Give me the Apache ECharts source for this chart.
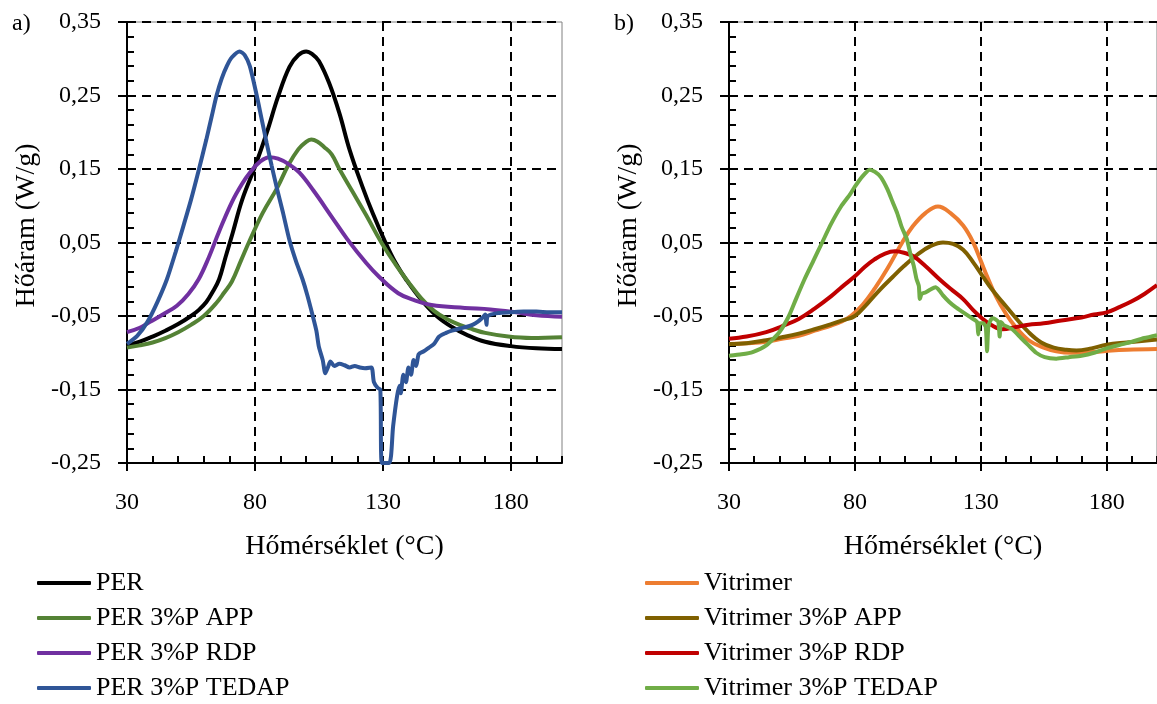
<!DOCTYPE html>
<html><head><meta charset="utf-8">
<script src="https://cdn.jsdelivr.net/npm/echarts@6/dist/echarts.min.js"></script>
<style>html,body{margin:0;padding:0;background:#fff}#c{width:1157px;height:704px}</style>
</head><body><div id="c"></div>
<script>
// ---- tick labels ----
const xTicks = [30, 80, 130, 180];
const yTicks = [-0.25, -0.15, -0.05, 0.05, 0.15, 0.25, 0.35];
const xTitle = 'Hőmérséklet (°C)';
const yTitle = 'Hőáram (W/g)';
const panelLabels = ['a)', 'b)'];

// ---- panel a) series: [temperature °C, heat flow W/g] ----
const PER = [[30,-0.09],[35,-0.085],[40,-0.078],[45,-0.07],[50,-0.061],[55,-0.05],[58,-0.042],[61,-0.031],[63.5,-0.017],[66,0.0],[68.5,0.03],[71.3,0.063],[75,0.108],[80,0.153],[84.6,0.199],[89,0.248],[93.5,0.289],[97,0.305],[100,0.31],[102.5,0.306],[105,0.297],[109,0.267],[113,0.226],[117,0.176],[122,0.126],[126,0.09],[131,0.05],[135,0.022],[139,0.0],[145,-0.028],[151,-0.05],[157,-0.065],[163,-0.076],[170,-0.085],[180,-0.091],[190,-0.094],[200,-0.095]];
const PER_APP = [[30,-0.093],[35,-0.09],[40,-0.086],[45,-0.08],[50,-0.072],[55,-0.062],[60,-0.05],[65,-0.032],[68,-0.018],[71,-0.003],[74.5,0.025],[78,0.053],[83,0.09],[88.8,0.125],[93,0.155],[97,0.177],[100,0.187],[102,0.19],[104.5,0.187],[107,0.18],[110,0.17],[113,0.15],[118,0.12],[123.5,0.087],[129.4,0.05],[135,0.02],[140,-0.004],[145,-0.026],[150,-0.043],[155,-0.054],[160,-0.062],[165,-0.068],[170,-0.073],[179,-0.078],[188,-0.08],[200,-0.079]];
const PER_RDP = [[30,-0.072],[35,-0.066],[39,-0.058],[44,-0.048],[49.5,-0.036],[54,-0.02],[58,0.0],[62,0.03],[66,0.065],[71,0.105],[75,0.13],[78,0.145],[82,0.16],[85.7,0.166],[89,0.164],[93,0.157],[97.4,0.145],[103,0.12],[110,0.085],[116,0.055],[123.5,0.022],[128.6,0.003],[136,-0.019],[142,-0.028],[149,-0.035],[162,-0.039],[172,-0.041],[182,-0.045],[190,-0.049],[200,-0.051]];
const PER_TEDAP = [[30,-0.088],[34,-0.077],[38,-0.058],[42,-0.03],[45.6,0.0],[49,0.037],[52,0.072],[55,0.108],[58,0.148],[61,0.19],[63,0.22],[65,0.25],[67,0.273],[69,0.29],[71,0.302],[74,0.31],[76,0.305],[78,0.29],[80.7,0.25],[82.5,0.22],[84.6,0.185],[86.5,0.155],[88.5,0.125],[91,0.09],[93.5,0.053],[96,0.025],[98.6,0.0],[100.5,-0.022],[102.6,-0.05],[104,-0.07],[105,-0.092],[106.5,-0.11],[107.5,-0.128],[108.5,-0.12],[109.5,-0.112],[111,-0.118],[113,-0.115],[115,-0.117],[117,-0.12],[119,-0.118],[121,-0.12],[123,-0.121],[125.5,-0.12],[126.5,-0.14],[128,-0.148],[129,-0.15],[129.6,-0.25],[132.5,-0.25],[134,-0.2],[135.5,-0.16],[136.5,-0.145],[137,-0.155],[138,-0.13],[139,-0.14],[140,-0.12],[141,-0.13],[142,-0.11],[143,-0.118],[144,-0.102],[146,-0.098],[148,-0.093],[150,-0.088],[152,-0.078],[154.7,-0.073],[157,-0.07],[160,-0.067],[162.5,-0.065],[165,-0.062],[167,-0.058],[169,-0.052],[170,-0.048],[170.5,-0.062],[171,-0.05],[175,-0.046],[180,-0.045],[185,-0.044],[190,-0.044],[195,-0.045],[200,-0.045]];

// ---- panel b) series ----
const VIT = [[30,-0.088],[37,-0.087],[44.8,-0.085],[51,-0.081],[57.7,-0.077],[64,-0.07],[70.6,-0.063],[75,-0.057],[78.4,-0.05],[83,-0.035],[88,-0.012],[93,0.015],[98.8,0.05],[103,0.072],[108,0.09],[113,0.099],[118,0.09],[123,0.073],[127,0.05],[130,0.025],[133,0.0],[136,-0.023],[140,-0.047],[143.6,-0.064],[149,-0.083],[155,-0.093],[160,-0.098],[166,-0.1],[175,-0.099],[182,-0.097],[188,-0.096],[200,-0.095]];
const VIT_APP = [[30,-0.088],[37,-0.087],[44.8,-0.083],[51,-0.079],[57.7,-0.074],[64,-0.068],[70.6,-0.061],[75,-0.056],[80,-0.05],[85,-0.033],[90,-0.014],[95,0.003],[99.5,0.018],[105,0.034],[110,0.045],[115,0.05],[119,0.048],[123,0.04],[127,0.023],[130.8,0.004],[134.5,-0.014],[138.6,-0.031],[144,-0.053],[149,-0.072],[154,-0.086],[159,-0.093],[164,-0.096],[168,-0.097],[174,-0.094],[180,-0.089],[188,-0.086],[200,-0.082]];
const VIT_RDP = [[30,-0.081],[37,-0.078],[44.8,-0.072],[51,-0.064],[57.7,-0.054],[64,-0.04],[70.6,-0.023],[75,-0.01],[80,0.004],[84,0.017],[87.8,0.027],[92,0.035],[96,0.038],[99.5,0.036],[103.4,0.031],[108,0.018],[113.6,0.0],[118,-0.013],[123,-0.027],[127,-0.042],[130.8,-0.054],[134,-0.062],[138.6,-0.068],[144,-0.065],[149,-0.062],[155,-0.06],[162,-0.056],[170,-0.052],[175,-0.048],[180,-0.045],[185,-0.038],[190,-0.03],[195,-0.02],[200,-0.008]];
const VIT_TEDAP = [[30,-0.104],[35,-0.102],[39.4,-0.099],[44.8,-0.09],[50,-0.072],[53.8,-0.05],[56.6,-0.027],[60,0.0],[63.5,0.025],[67,0.05],[70.5,0.075],[74.5,0.099],[78,0.115],[80,0.126],[83,0.14],[85.9,0.149],[88,0.146],[90.3,0.139],[93,0.122],[95,0.105],[96.8,0.09],[98.5,0.072],[100.7,0.054],[102,0.035],[103.4,0.018],[104.5,0.0],[105.4,-0.009],[105.8,-0.027],[106.5,-0.02],[108,-0.018],[110,-0.014],[112,-0.011],[113.5,-0.015],[115,-0.022],[117.5,-0.031],[120,-0.038],[123,-0.045],[126,-0.052],[128.5,-0.058],[129,-0.075],[129.5,-0.06],[131,-0.06],[132,-0.065],[132.5,-0.098],[133,-0.065],[134,-0.055],[135,-0.053],[136,-0.055],[137,-0.058],[137.5,-0.078],[138,-0.058],[139,-0.062],[142.5,-0.068],[146,-0.08],[149,-0.09],[152,-0.1],[155.4,-0.106],[160,-0.108],[165,-0.106],[170,-0.104],[175,-0.1],[180,-0.094],[188,-0.087],[195,-0.08],[200,-0.076]];

const FONT = 'Liberation Serif';
const fmtY = v => (Math.abs(v) < 1e-9 ? 0 : v).toFixed(2).replace('.', ',');

function mainX(grid) {
  return {
    gridIndex: grid, type: 'value', min: 30, max: 200, interval: 50, position: 'bottom',
    name: xTitle, nameLocation: 'middle', nameGap: 70,
    nameTextStyle: { fontFamily: FONT, fontSize: 28, color: '#000' },
    axisLine: { show: true, onZero: false, lineStyle: { color: '#000', width: 2 } },
    axisTick: { show: true, length: 8, customValues: xTicks, lineStyle: { color: '#000', width: 2 } },
    axisLabel: { show: true, customValues: xTicks, margin: 28, fontFamily: FONT, fontSize: 24, color: '#000',
      formatter: v => xTicks.indexOf(v) >= 0 ? String(v) : '' },
    splitLine: { show: true, lineStyle: { color: '#000', width: 2, type: [9, 6] } }
  };
}
function minorX(grid) {
  return {
    gridIndex: grid, type: 'value', min: 30, max: 200, interval: 10, position: 'bottom', offset: 0,
    axisLine: { show: false, onZero: false }, axisLabel: { show: false }, splitLine: { show: false },
    axisTick: { show: true, inside: true, length: 7, lineStyle: { color: '#000', width: 2 } }
  };
}
function mainY(grid) {
  return {
    gridIndex: grid, type: 'value', min: -0.25, max: 0.35, interval: 0.1,
    name: yTitle, nameLocation: 'middle', nameGap: 86,
    nameTextStyle: { fontFamily: FONT, fontSize: 28, color: '#000', padding: [0, 0, 0, 34] },
    axisLine: { show: true, onZero: false, lineStyle: { color: '#000', width: 2 } },
    axisTick: { show: true, length: 9, customValues: yTicks, lineStyle: { color: '#000', width: 2 } },
    axisLabel: { show: true, customValues: yTicks, margin: 26, fontFamily: FONT, fontSize: 24, color: '#000', formatter: fmtY },
    splitLine: { show: true, lineStyle: { color: '#000', width: 2, type: [9, 6] } }
  };
}
function minorY(grid) {
  return {
    gridIndex: grid, type: 'value', min: -0.25, max: 0.35, interval: 0.02, position: 'left',
    axisLine: { show: false, onZero: false }, axisLabel: { show: false }, splitLine: { show: false },
    axisTick: { show: true, inside: true, length: 7, lineStyle: { color: '#000', width: 2 } }
  };
}

function line(name, data, color, xi, yi, smooth) {
  return {
    name, type: 'line', data, xAxisIndex: xi, yAxisIndex: yi, symbol: 'none',
    smooth: smooth, clip: true, z: 5,
    lineStyle: { color, width: 4 }, itemStyle: { color }
  };
}

const series = [
  line('PER', PER, '#000000', 0, 0, 0.4),
  line('PER 3%P APP', PER_APP, '#548235', 0, 0, 0.4),
  line('PER 3%P RDP', PER_RDP, '#7030A0', 0, 0, 0.4),
  line('PER 3%P TEDAP', PER_TEDAP, '#2F5597', 0, 0, 0.25),
  line('Vitrimer', VIT, '#ED7D31', 2, 2, 0.4),
  line('Vitrimer 3%P APP', VIT_APP, '#7F6000', 2, 2, 0.4),
  line('Vitrimer 3%P RDP', VIT_RDP, '#C00000', 2, 2, 0.4),
  line('Vitrimer 3%P TEDAP', VIT_TEDAP, '#70AD47', 2, 2, 0.2)
];

function legend(names, left) {
  return {
    data: names, orient: 'vertical', left, top: 570, padding: 0,
    itemWidth: 54, itemHeight: 4, itemGap: 9, selectedMode: false,
    icon: 'roundRect',
    textStyle: { fontFamily: FONT, fontSize: 26, color: '#000', lineHeight: 22 }
  };
}

const option = {
  animation: false,
  backgroundColor: '#fff',
  grid: [
    { left: 127, right: 595, top: 22, bottom: 241, show: true, borderColor: '#808080', borderWidth: 1, containLabel: false },
    { left: 729, right: -7, top: 22, bottom: 241, show: true, borderColor: '#808080', borderWidth: 1, containLabel: false }
  ],
  xAxis: [mainX(0), minorX(0), mainX(1), minorX(1)],
  yAxis: [mainY(0), minorY(0), mainY(1), minorY(1)],
  legend: [
    legend(['PER', 'PER 3%P APP', 'PER 3%P RDP', 'PER 3%P TEDAP'], 37),
    legend(['Vitrimer', 'Vitrimer 3%P APP', 'Vitrimer 3%P RDP', 'Vitrimer 3%P TEDAP'], 645)
  ],
  graphic: [
    { type: 'text', left: 12, top: 12, style: { text: panelLabels[0], font: '24px "Liberation Serif"', fill: '#000' } },
    { type: 'text', left: 614, top: 12, style: { text: panelLabels[1], font: '24px "Liberation Serif"', fill: '#000' } }
  ],
  series
};

const chart = echarts.init(document.getElementById('c'), null, { renderer: 'canvas' });
chart.setOption(option);
</script>
</body></html>
